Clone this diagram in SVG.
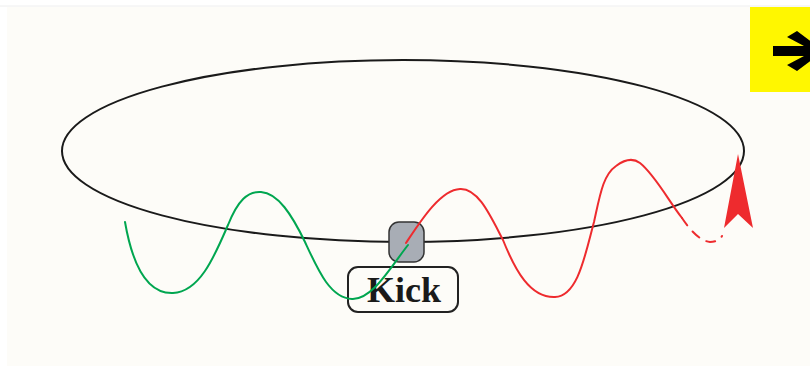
<svg xmlns="http://www.w3.org/2000/svg" width="810" height="366" viewBox="0 0 810 366">
<style>
.wave{fill:none;stroke-width:2;stroke-linecap:round}
.green{stroke:#00a650}
.red{stroke:#ee2b2e}
.box{stroke:#222;stroke-width:2}
</style>
<rect x="0" y="0" width="810" height="366" fill="#ffffff"/>
<line x1="0" y1="6" x2="810" y2="6" stroke="#eeeeee" stroke-width="1"/>
<rect x="7" y="7" width="803" height="359" fill="#fdfcf8"/>
<g id="ring">
<ellipse cx="403" cy="151" rx="341" ry="91" fill="none" stroke="#1a1a1a" stroke-width="2"/>
</g>
<g id="kicker">
<rect x="389" y="222" width="35" height="40" rx="10" fill="#a8adb5" stroke="#333" stroke-width="1.5"/>
</g>
<g id="kick-label">
<rect class="box" x="348" y="267" width="110" height="45" rx="10" fill="none"/>
<text x="404" y="302" text-anchor="middle" font-family="'Liberation Serif', serif" font-weight="bold" font-size="36" fill="#1a1a1a">Kick</text>
</g>
<g id="next-button">
<rect x="750" y="7" width="60" height="85" fill="#fff700"/>
<path d="M773,46 H804 L787,37 L797,31 L824,51 L797,71 L787,65 L804,56 H773 Z" fill="#000"/>
</g>
<g id="connectors">
<path class="wave green" d="M125,222 C133,268 148,294 173,293 C200,292 215,255 228,225 C238,200 248,191 261,192 C278,193 292,215 305,242 C318,270 330,298 352,299 C372,300 390,268 408,245"/>
<path class="wave red" d="M406,243 C420,222 440,190 460,189 C478,188 490,215 503,240 C515,270 530,298 555,297 C578,296 585,255 594,222 C600,195 603,175 616,166 C624,160 632,157 640,163 C655,175 668,200 682,218"/>
<path class="wave red" stroke-dasharray="9,8" d="M682,218 C690,230 700,241 710,242 C715,242 720,240 722,236"/>
<polygon points="738,154 753,228 738,214 724,228" fill="#ee2b2e"/>
</g>
</svg>
